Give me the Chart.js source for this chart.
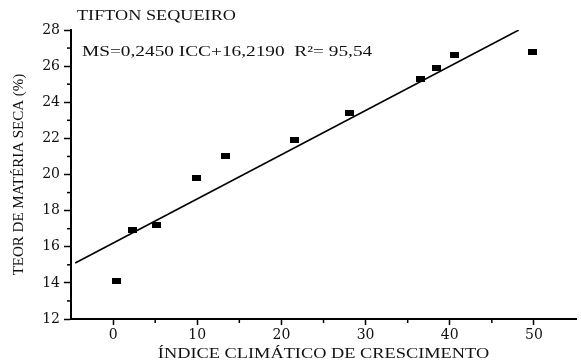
<!DOCTYPE html>
<html>
<head>
<meta charset="utf-8">
<script src="https://cdn.jsdelivr.net/npm/chart.js@4.4.1/dist/chart.umd.min.js"></script>
<style>
  html, body { margin: 0; padding: 0; background: #fff; }
  canvas { display: block; }
</style>
</head>
<body>
<canvas id="chart" width="581" height="363"></canvas>
<script>
// Data
const icc = [0.4, 2.3, 5.2, 9.9, 13.4, 21.5, 28.1, 36.5, 38.4, 40.6, 49.8];
const teor = [14.1, 16.9, 17.2, 19.8, 21.0, 21.9, 23.4, 25.3, 25.9, 26.6, 26.8];

// Regression line end points (MS = 0,2450 ICC + 16,2190)
const fitX = [-4.5, 48.2];
const fitY = [15.1, 28.0];

const titleText = 'TIFTON SEQUEIRO';
const equationText = 'MS=0,2450 ICC+16,2190  R\u00b2= 95,54';
const xTitle = '\u00cdNDICE CLIM\u00c1TICO DE CRESCIMENTO';
const yTitle = 'TEOR DE MAT\u00c9RIA SECA (%)';

const xMinor = [5, 15, 25, 35, 45];
const yMinor = [13, 15, 17, 19, 21, 23, 25, 27];

const tickFont = 'DejaVu Serif';
const textFont = 'Liberation Serif';

// little filled rectangle used as marker
const marker = document.createElement('canvas');
marker.width = 9;
marker.height = 6;
const mctx = marker.getContext('2d');
mctx.fillStyle = '#000';
mctx.fillRect(0, 0, 9, 6);

// the original figure has wide, stretched lettering
function wideText(ctx, text, size, x, y, stretch, align) {
    ctx.save();
    ctx.font = size + 'px "' + textFont + '"';
    ctx.textAlign = align || 'left';
    ctx.textBaseline = 'middle';
    ctx.translate(x, y);
    ctx.scale(stretch, 1);
    ctx.fillText(text, 0, 0);
    ctx.restore();
}

// minor ticks and the text around the plot
const extras = {
    id: 'extras',
    afterDraw(chart) {
        const { ctx, scales: { x, y } } = chart;
        ctx.save();
        ctx.strokeStyle = '#000';
        ctx.lineWidth = 1.5;
        xMinor.forEach(v => {
            const px = x.getPixelForValue(v);
            ctx.beginPath();
            ctx.moveTo(px, x.top);
            ctx.lineTo(px, x.top + 4);
            ctx.stroke();
        });
        yMinor.forEach(v => {
            const py = y.getPixelForValue(v);
            ctx.beginPath();
            ctx.moveTo(y.right, py);
            ctx.lineTo(y.right - 4, py);
            ctx.stroke();
        });
        ctx.fillStyle = '#111';
        wideText(ctx, titleText, 14, 77, 16, 1.3);
        wideText(ctx, equationText, 14, 82, 52, 1.38);
        wideText(ctx, xTitle, 14, (x.left + x.right) / 2, 354, 1.31, 'center');
        ctx.restore();
    }
};

new Chart(document.getElementById('chart'), {
    type: 'scatter',
    data: {
        datasets: [
            {
                data: icc.map((v, i) => ({ x: v, y: teor[i] })),
                pointStyle: marker,
                pointRadius: 4,
                showLine: false
            },
            {
                data: fitX.map((v, i) => ({ x: v, y: fitY[i] })),
                showLine: true,
                borderColor: '#000',
                borderWidth: 1.6,
                pointRadius: 0
            }
        ]
    },
    options: {
        responsive: false,
        animation: false,
        layout: { padding: { top: 30, right: 0, left: 0, bottom: 0 } },
        plugins: {
            legend: { display: false },
            tooltip: { enabled: false }
        },
        scales: {
            x: {
                type: 'linear',
                min: -5,
                max: 55,
                afterBuildTicks: scale => {
                    scale.ticks = scale.ticks.filter(t => t.value % 10 === 0);
                },
                afterFit: scale => { scale.height = 44; },
                ticks: {
                    stepSize: 5,
                    color: '#111',
                    padding: 2,
                    maxRotation: 0,
                    font: { family: tickFont, size: 14 }
                },
                grid: { drawOnChartArea: false, tickLength: 6, tickColor: '#000', tickWidth: 1.5 },
                border: { color: '#000', width: 2 }
            },
            y: {
                min: 12,
                max: 28,
                afterFit: scale => { scale.width = 71; },
                ticks: {
                    stepSize: 2,
                    color: '#111',
                    padding: 4,
                    font: { family: tickFont, size: 14 }
                },
                grid: { drawOnChartArea: false, tickLength: 7, tickColor: '#000', tickWidth: 1.5 },
                border: { color: '#000', width: 2 },
                title: {
                    display: true,
                    text: yTitle,
                    color: '#111',
                    font: { family: textFont, size: 15 },
                    padding: { top: 10, bottom: 0 }
                }
            }
        }
    },
    plugins: [extras]
});
</script>
</body>
</html>
